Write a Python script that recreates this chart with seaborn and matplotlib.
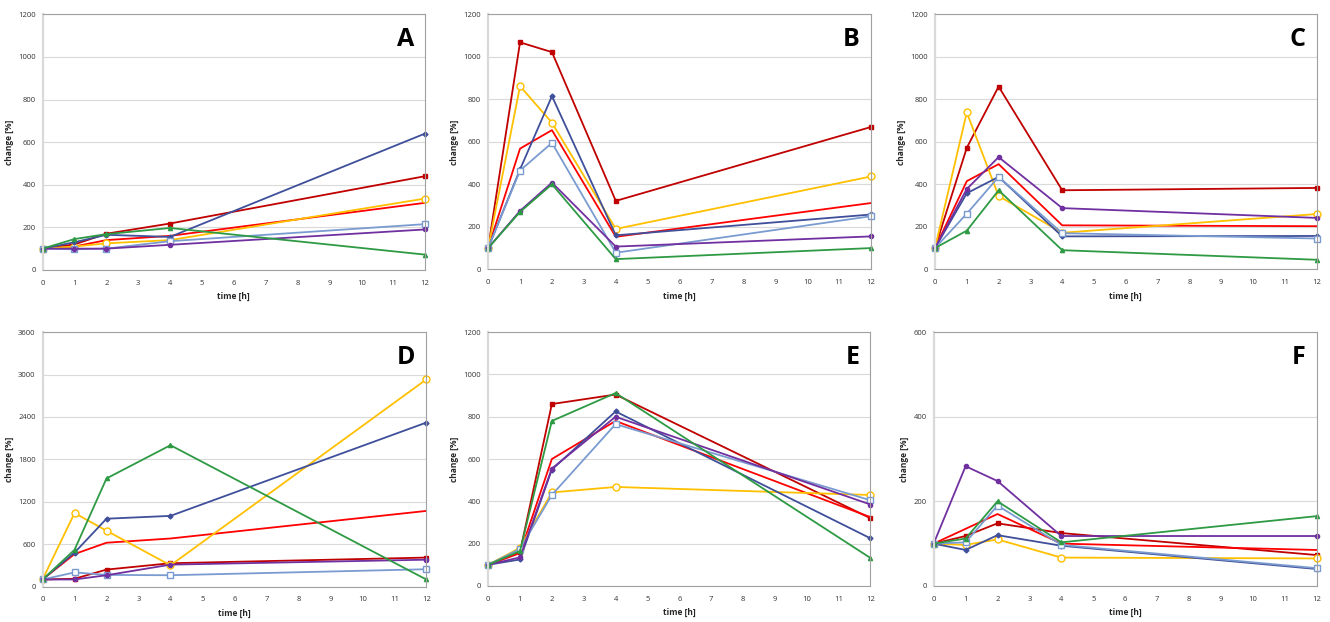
import matplotlib
matplotlib.use('Agg')
import matplotlib.pyplot as plt
import pandas as pd
import seaborn as sns

times = [0, 1, 2, 4, 12]
series = ['dark red', 'red', 'yellow', 'slate', 'light blue', 'purple', 'green']

panel_a = {
    'dark red': [100, 120, 170, 218, 440],
    'red': [100, 110, 140, 160, 315],
    'yellow': [100, 110, 125, 140, 335],
    'slate': [100, 130, 165, 155, 640],
    'light blue': [100, 97, 100, 135, 215],
    'purple': [100, 100, 100, 118, 190],
    'green': [100, 145, 168, 197, 72],
}
panel_b = {
    'dark red': [100, 1068, 1022, 322, 670],
    'red': [100, 568, 655, 153, 312],
    'yellow': [100, 862, 690, 190, 437],
    'slate': [100, 470, 815, 160, 258],
    'light blue': [100, 465, 595, 78, 250],
    'purple': [100, 275, 408, 107, 155],
    'green': [100, 270, 400, 48, 100],
}
panel_c = {
    'dark red': [100, 572, 860, 372, 383],
    'red': [100, 415, 495, 207, 203],
    'yellow': [100, 738, 345, 172, 260],
    'slate': [100, 358, 435, 155, 157],
    'light blue': [100, 262, 435, 170, 145],
    'purple': [100, 378, 528, 288, 242],
    'green': [100, 182, 372, 90, 45],
}
panel_d = {
    'dark red': [100, 110, 240, 330, 410],
    'red': [100, 460, 620, 680, 1070],
    'yellow': [100, 1040, 790, 300, 2930],
    'slate': [100, 480, 960, 1000, 2320],
    'light blue': [100, 200, 165, 160, 245],
    'purple': [100, 100, 160, 310, 380],
    'green': [100, 520, 1530, 2000, 100],
}
panel_e = {
    'dark red': [100, 160, 860, 905, 320],
    'red': [100, 155, 600, 780, 325],
    'yellow': [100, 180, 442, 468, 430],
    'slate': [100, 125, 550, 825, 225],
    'light blue': [100, 175, 430, 765, 405],
    'purple': [100, 135, 555, 800, 385],
    'green': [100, 165, 780, 912, 132],
}
panel_f = {
    'dark red': [100, 118, 148, 125, 73],
    'red': [100, 135, 170, 100, 85],
    'yellow': [100, 97, 110, 67, 65],
    'slate': [100, 85, 120, 95, 40],
    'light blue': [100, 103, 190, 97, 42],
    'purple': [100, 283, 248, 118, 118],
    'green': [100, 112, 200, 103, 165],
}

panels = [
    ('A', panel_a, 1200, 200, [0.032, 0.566, 0.2875, 0.411]),
    ('B', panel_b, 1200, 200, [0.367, 0.567, 0.288, 0.410]),
    ('C', panel_c, 1200, 200, [0.703, 0.567, 0.287, 0.410]),
    ('D', panel_d, 3600, 600, [0.032, 0.057, 0.2885, 0.409]),
    ('E', panel_e, 1200, 200, [0.367, 0.058, 0.2875, 0.408]),
    ('F', panel_f, 600, 200, [0.702, 0.058, 0.288, 0.408]),
]

colors = {
    'dark red': '#C00000', 'red': '#FF0000', 'yellow': '#FFC000',
    'slate': '#3F4F9A', 'light blue': '#7A9BD0', 'purple': '#7030A0',
    'green': '#2E9A44',
}
markers = {
    'dark red': ('s', 3, True), 'red': ('None', 0, True), 'yellow': ('o', 5, False),
    'slate': ('D', 2.5, True), 'light blue': ('s', 5, False), 'purple': ('o', 3, True),
    'green': ('^', 3, True),
}

sns.set_style('white')
plt.rcParams['font.family'] = ['Open Sans', 'DejaVu Sans']

fig = plt.figure(figsize=(13.3, 6.22), dpi=100)
fig.set_facecolor('white')

for letter, data, ymax, ystep, pos in panels:
    ax = fig.add_axes(pos)
    df = pd.DataFrame([
        {'time': t, 'change': v, 'series': s}
        for s in series for t, v in zip(times, data[s])
    ])
    for s in series:
        m, ms, filled = markers[s]
        sns.lineplot(data=df[df['series'] == s], x='time', y='change', ax=ax,
                     color=colors[s], linewidth=1.3, marker=m, markersize=ms,
                     markerfacecolor=colors[s] if filled else 'white',
                     markeredgecolor=colors[s], markeredgewidth=1.0,
                     clip_on=False)
    ax.set_xlim(0, 12)
    ax.set_ylim(0, ymax)
    ax.set_xticks(range(0, 13))
    ax.set_yticks(range(0, ymax + 1, ystep))
    ax.grid(axis='y', color='#d9d9d9', linewidth=0.8)
    ax.set_axisbelow(True)
    for side in ['top', 'right', 'bottom']:
        ax.spines[side].set_color('#a0a0a0')
        ax.spines[side].set_linewidth(0.8)
    ax.spines['left'].set_color('#d9d9d9')
    ax.spines['left'].set_linewidth(1.6)
    ax.tick_params(axis='both', labelsize=5.5, labelcolor='#333333', color='#a0a0a0',
                   length=3, width=0.6, direction='out', pad=2)
    ax.tick_params(axis='x', pad=4)
    ax.set_xlabel('time [h]', fontsize=6, fontweight='bold', labelpad=4)
    ax.set_ylabel('change [%]', fontsize=6, fontweight='bold', labelpad=3)
    ax.text(0.971, 0.95, letter, transform=ax.transAxes, ha='right', va='top',
            fontsize=18, fontweight='bold', color='black')

plt.savefig('out.png', dpi=100)
